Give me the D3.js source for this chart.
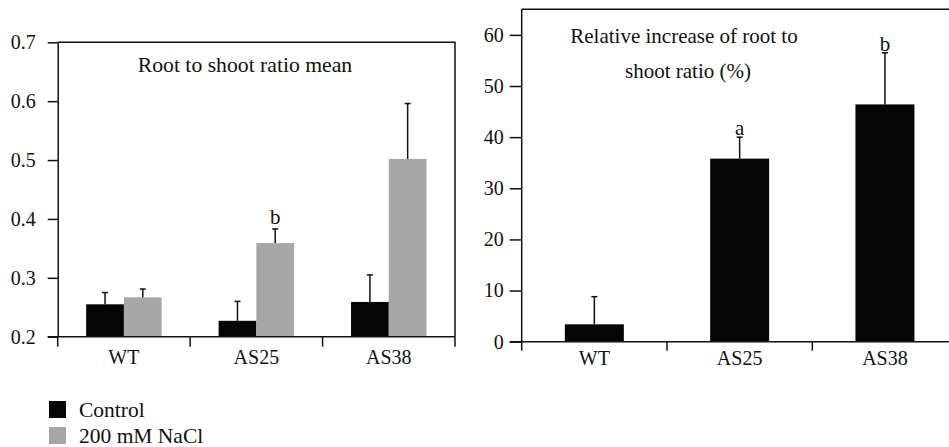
<!DOCTYPE html>
<html>
<head>
<meta charset="utf-8">
<script src="https://cdn.jsdelivr.net/npm/d3@7/dist/d3.min.js"></script>
<style>
  body { margin: 0; background: #fff; }
  .axis path, .axis line, .frame { stroke: #111; stroke-width: 1.5; fill: none; }
  .axis text { fill: #111; }
</style>
</head>
<body>
<svg id="chart" width="949" height="447"></svg>
<script>
// Data
const groups = ["WT", "AS25", "AS38"];
const series = ["Control", "200 mM NaCl"];
const seriesColors = ["#050505", "#a6a6a6"];

const controlMean = [0.255, 0.227, 0.259];
const controlErr = [0.020, 0.033, 0.046];
const naclMean = [0.267, 0.359, 0.502];
const naclErr = [0.014, 0.024, 0.094];
const naclLetters = ["", "b", ""];

const increaseMean = [3.4, 35.8, 46.4];
const increaseErr = [5.4, 4.2, 10.1];
const increaseLetters = ["", "a", "b"];

const leftTicks = [0.2, 0.3, 0.4, 0.5, 0.6, 0.7];
const rightTicks = [0, 10, 20, 30, 40, 50, 60];

const FONT = "Liberation Serif, Times New Roman, serif";
const svg = d3.select("#chart").attr("font-family", FONT);
const CAP = 3; // half width of error bar cap

function errorBar(g, cx, yTop, yEnd) {
    g.append("line").attr("x1", cx).attr("x2", cx).attr("y1", yTop).attr("y2", yEnd)
        .attr("stroke", "#111").attr("stroke-width", 1.5);
    g.append("line").attr("x1", cx - CAP).attr("x2", cx + CAP).attr("y1", yEnd).attr("y2", yEnd)
        .attr("stroke", "#111").attr("stroke-width", 1.5);
}

// plain serif text label
function label(g, x, y, size, txt, anchor = "middle") {
    return g.append("text").attr("x", x).attr("y", y).attr("text-anchor", anchor)
        .attr("font-family", FONT).attr("font-size", size).attr("fill", "#111").text(txt);
}

// axis groups get font-family from d3, put the serif back
function serifAxis(a) {
    a.attr("font-family", FONT).attr("font-size", 20);
}

// ---------- Left panel: root to shoot ratio ----------
{
    const left = 57.7, right = 455, top = 42.3, bottom = 336.7;
    const g = svg.append("g");
    const x = d3.scaleBand().domain(groups).range([left, right]);
    const xs = d3.scaleBand().domain(series).range([x.bandwidth() * 0.215, x.bandwidth() * 0.785]);
    const y = d3.scaleLinear().domain([0.2, 0.7]).range([bottom, top]);

    const rows = groups.map((k, i) => ({
        key: k,
        vals: [
            { s: series[0], v: controlMean[i], e: controlErr[i], c: seriesColors[0], l: "" },
            { s: series[1], v: naclMean[i], e: naclErr[i], c: seriesColors[1], l: naclLetters[i] },
        ],
    }));

    rows.forEach((r) => {
        r.vals.forEach((d) => {
            const bx = x(r.key) + xs(d.s);
            g.append("rect").attr("x", bx).attr("width", xs.bandwidth())
                .attr("y", y(d.v)).attr("height", y(0.2) - y(d.v)).attr("fill", d.c);
            const cx = bx + xs.bandwidth() / 2;
            errorBar(g, cx, y(d.v), y(d.v + d.e));
            if (d.l) label(g, cx, y(d.v + d.e) - 5, 21, d.l);
        });
    });

    // frame (top and right)
    g.append("path").attr("class", "frame")
        .attr("d", `M${left},${top} H${right} V${bottom}`);

    g.append("g").attr("class", "axis").attr("transform", `translate(${left},0)`)
        .call(d3.axisLeft(y).tickValues(leftTicks).tickFormat(d3.format(".1f"))
            .tickSize(10).tickSizeOuter(0).tickPadding(12))
        .call(serifAxis);

    const xa = g.append("g").attr("class", "axis").attr("transform", `translate(0,${bottom})`)
        .call(d3.axisBottom(x).tickSize(0).tickSizeOuter(0).tickPadding(13))
        .call(serifAxis);
    xa.select(".domain").attr("d", `M${left - 10},0H${right}`);
    const bounds = groups.map((k) => x(k)).concat([x(groups[groups.length - 1]) + x.bandwidth()]);
    xa.selectAll(".bound").data(bounds).join("line").attr("class", "bound")
        .attr("x1", (d) => d).attr("x2", (d) => d).attr("y1", 0).attr("y2", 10);

    label(g, 245, 72, 21.7, "Root to shoot ratio mean");
}

// ---------- Right panel: relative increase ----------
{
    const left = 521.7, right = 957.6, top = 9.3, bottom = 341.7;
    const g = svg.append("g");
    const x = d3.scaleBand().domain(groups).range([left, right]);
    const xb = d3.scaleBand().domain(groups).range([left, right]).paddingInner(0.594).paddingOuter(0.297);
    const y = d3.scaleLinear().domain([0, 65]).range([bottom, top]);

    groups.forEach((k, i) => {
        const v = increaseMean[i], e = increaseErr[i];
        g.append("rect").attr("x", xb(k)).attr("width", xb.bandwidth())
            .attr("y", y(v)).attr("height", y(0) - y(v)).attr("fill", seriesColors[0]);
        const cx = xb(k) + xb.bandwidth() / 2;
        errorBar(g, cx, y(v), y(v + e));
        if (increaseLetters[i]) label(g, cx, y(v + e) - 2, 21, increaseLetters[i]);
    });

    g.append("path").attr("class", "frame")
        .attr("d", `M${left},${top} H${right} V${bottom}`);

    g.append("g").attr("class", "axis").attr("transform", `translate(${left},0)`)
        .call(d3.axisLeft(y).tickValues(rightTicks).tickSize(12).tickSizeOuter(0).tickPadding(6))
        .call((a) => a.select(".domain").attr("d", `M0,${top}V${bottom}`))
        .call(serifAxis);

    const xa = g.append("g").attr("class", "axis").attr("transform", `translate(0,${bottom})`)
        .call(d3.axisBottom(x).tickSize(0).tickSizeOuter(0).tickPadding(9))
        .call(serifAxis);
    xa.select(".domain").attr("d", `M${left - 12},0H${right}`);
    const bounds = groups.map((k) => x(k)).concat([x(groups[groups.length - 1]) + x.bandwidth()]);
    xa.selectAll(".bound").data(bounds).join("line").attr("class", "bound")
        .attr("x1", (d) => d).attr("x2", (d) => d).attr("y1", 0).attr("y2", 9);

    label(g, 684, 43, 21, "Relative increase of root to");
    label(g, 688, 78, 21, "shoot ratio (%)");
}

// ---------- Legend ----------
{
    const lg = svg.append("g").attr("transform", "translate(49,401)");
    series.forEach((s, i) => {
        const row = lg.append("g").attr("transform", `translate(0,${i * 26})`);
        row.append("rect").attr("width", 17).attr("height", 17).attr("fill", seriesColors[i]);
        label(row, 30, 16, 21.5, s, "start");
    });
}
</script>
</body>
</html>
